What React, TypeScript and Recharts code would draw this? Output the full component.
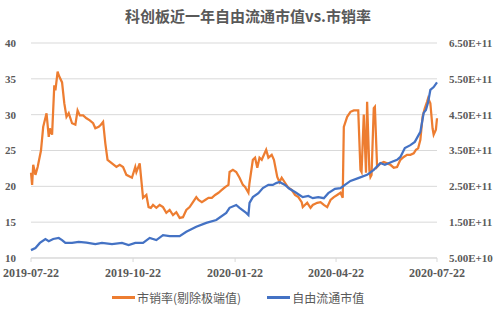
import { LineChart, Line, XAxis, YAxis, CartesianGrid } from "recharts"

// days counted from 2019-07-22
const START = Date.UTC(2019, 6, 22)
const xTickLabels = ["2019-07-22", "2019-10-22", "2020-01-22", "2020-04-22", "2020-07-22"]
const leftTicks = [10, 15, 20, 25, 30, 35, 40]
const rightTicks = [5e10, 1.5e11, 2.5e11, 3.5e11, 4.5e11, 5.5e11, 6.5e11]

// 市销率(剔除极端值)
const psDays = [
  0, 1, 2, 4, 6, 9, 11, 14, 16, 17, 19, 21, 22, 24, 25, 28, 30, 32, 34, 37, 40, 42, 44, 47, 50, 53, 56, 58, 61, 63,
  65, 67, 69, 73, 77, 80, 83, 86, 91, 94, 95, 98, 101, 104, 106, 108, 110, 113, 116, 119, 122, 125, 128, 131, 134,
  137, 140, 143, 146, 149, 151, 154, 157, 160, 163, 166, 169, 172, 175, 178, 179, 182, 185, 188, 191, 193, 196, 197,
  200, 202, 204, 206, 208, 210, 212, 214, 217, 219, 222, 224, 226, 229, 232, 235, 238, 241, 244, 245, 249, 252, 254,
  258, 261, 264, 267, 270, 273, 276, 279, 281, 282, 285, 288, 291, 295, 297, 298, 300, 302, 303, 305, 306, 307, 309,
  310, 312, 315, 318, 321, 324, 327, 330, 333, 336, 339, 342, 345, 347, 349, 351, 353, 355, 357, 358, 360, 362, 363,
  365, 366,
]
const psValues = [
  21.9, 20.2, 23, 21.6, 22.7, 25, 28.3, 30.2, 26.9, 28.1, 27.2, 34.1, 33.4, 36, 35.5, 34.5, 31.6, 29.7, 30.2, 28.8,
  28.6, 30.6, 29.9, 29.9, 29.5, 29.2, 28.8, 28.1, 28.3, 28.6, 29, 26, 23.7, 23.2, 22.7, 23, 22.7, 21.6, 21.2, 22.7,
  22, 23.2, 18.4, 18.8, 17.1, 17, 17.4, 17, 17.4, 17.1, 16.3, 16.7, 16, 16.4, 15.6, 15.7, 16.7, 17.1, 17.8, 18.5,
  18.1, 17.8, 18.1, 18.4, 18.4, 18.8, 19.1, 19.5, 19.9, 20.2, 22, 22.3, 22, 21.2, 20.2, 19.9, 19.1, 20.5, 23.7, 24,
  22.6, 24, 23.7, 24.4, 25.1, 24, 24.4, 23.7, 21.3, 20.6, 21.2, 20.5, 19.8, 19.5, 18.8, 18.5, 17.8, 17.1, 17.7, 17,
  17.4, 17.7, 17.8, 17.4, 17.1, 18.1, 18.5, 18.8, 19.1, 18.4, 28.3, 29.7, 30.4, 30.6, 30.6, 22.3, 22, 30, 21.9, 31.8,
  22.3, 21.3, 21.6, 30.9, 31.1, 22.7, 23.2, 23.4, 23.2, 23, 22.6, 22.7, 23.7, 24.1, 24.4, 24.4, 24.6, 25.1, 25.3,
  26.5, 29.7, 30.9, 31.8, 32.3, 31.6, 28.1, 27.2, 27.9, 29.5,
]

// 自由流通市值, in units of 1E+11
const mvDays = [
  0, 4, 8, 13, 16, 20, 25, 28, 31, 37, 43, 50, 58, 64, 73, 82, 88, 94, 101, 107, 113, 119, 125, 134, 140, 149, 158,
  167, 176, 179, 185, 188, 194, 196, 197, 200, 205, 209, 214, 218, 221, 224, 229, 233, 238, 242, 245, 250, 254, 259,
  264, 268, 274, 279, 283, 288, 295, 303, 309, 315, 319, 325, 330, 333, 337, 342, 346, 351, 354, 356, 358, 360, 363,
  366,
]
const mvValues = [
  0.72, 0.78, 0.92, 1.03, 0.97, 1.03, 1.06, 1.0, 0.92, 0.92, 0.95, 0.93, 0.89, 0.92, 0.89, 0.92, 0.86, 0.92, 0.92,
  1.06, 1.0, 1.14, 1.11, 1.11, 1.23, 1.37, 1.48, 1.56, 1.76, 1.9, 1.98, 1.9, 1.76, 1.7, 2.04, 2.2, 2.31, 2.45, 2.54,
  2.54, 2.59, 2.62, 2.54, 2.43, 2.34, 2.26, 2.2, 2.23, 2.17, 2.2, 2.17, 2.31, 2.43, 2.45, 2.54, 2.65, 2.73, 2.82,
  2.96, 3.15, 3.1, 3.18, 3.24, 3.32, 3.57, 3.65, 3.74, 4.02, 4.55, 4.63, 4.85, 5.19, 5.27, 5.4,
]

const toDay = (s: string) => Math.round((Date.parse(s) - START) / 86400000)
const xTicks = xTickLabels.map(toDay)
const fmtDay = (d: number) => new Date(START + d * 86400000).toISOString().slice(0, 10)

type Row = { day: number; ps?: number; mv?: number }
const rowMap = new Map<number, Row>()
psDays.forEach((d, i) => rowMap.set(d, { ...(rowMap.get(d) || { day: d }), ps: psValues[i] }))
mvDays.forEach((d, i) => rowMap.set(d, { ...(rowMap.get(d) || { day: d }), mv: mvValues[i] * 1e11 }))
const data = Array.from(rowMap.values()).sort((a, b) => a.day - b.day)

const GRAY = "#595959"
const ORANGE = "#ED7D31"
const BLUE = "#4472C4"
const axisFont = { fontFamily: "'Liberation Serif', serif", fontWeight: 700, fill: GRAY }

export default function App() {
  return (
    <div style={{ position: "absolute", left: 0, top: 0, width: 500, height: 314, background: "#fff" }}>
      <div
        style={{
          position: "absolute",
          top: 5,
          left: 0,
          width: 496,
          textAlign: "center",
          fontFamily: "'Noto Sans CJK SC', sans-serif",
          fontWeight: 700,
          fontSize: 15,
          color: GRAY,
        }}
      >
        科创板近一年自由流通市值vs.市销率
      </div>
      <LineChart width={500} height={314} data={data} margin={{ top: 43, right: 0, bottom: 26, left: 0 }}>
        <CartesianGrid stroke="#d9d9d9" vertical={false} yAxisId="left" />
        <XAxis
          dataKey="day"
          type="number"
          domain={[0, 366]}
          ticks={xTicks}
          tickFormatter={fmtDay}
          interval={0}
          height={30}
          stroke="#d9d9d9"
          tickSize={4}
          tickMargin={6}
          tick={{ ...axisFont, fontSize: 12 }}
        />
        <YAxis
          yAxisId="left"
          domain={[10, 40]}
          ticks={leftTicks}
          width={31}
          axisLine={false}
          tickLine={false}
          tickSize={0}
          tickMargin={15}
          tick={{ ...axisFont, fontSize: 11 }}
        />
        <YAxis
          yAxisId="right"
          orientation="right"
          domain={[5e10, 6.5e11]}
          ticks={rightTicks}
          tickFormatter={(v: number) => v.toExponential(2).toUpperCase()}
          width={63}
          axisLine={false}
          tickLine={false}
          tickSize={0}
          tickMargin={12}
          tick={{ ...axisFont, fontSize: 11 }}
        />
        <Line
          yAxisId="left"
          dataKey="ps"
          stroke={ORANGE}
          strokeWidth={2.25}
          dot={false}
          connectNulls
          isAnimationActive={false}
        />
        <Line
          yAxisId="right"
          dataKey="mv"
          stroke={BLUE}
          strokeWidth={2.25}
          dot={false}
          connectNulls
          isAnimationActive={false}
        />
      </LineChart>
      <div
        style={{
          position: "absolute",
          top: 289,
          left: 112,
          display: "flex",
          alignItems: "center",
          fontFamily: "'Noto Sans CJK SC', sans-serif",
          fontSize: 12,
          color: GRAY,
          whiteSpace: "nowrap",
        }}
      >
        <span style={{ display: "inline-block", width: 23, height: 2.5, background: ORANGE, marginRight: 2 }} />
        <span>市销率(剔除极端值)</span>
        <span style={{ display: "inline-block", width: 23, height: 2.5, background: BLUE, marginLeft: 26, marginRight: 2 }} />
        <span>自由流通市值</span>
      </div>
    </div>
  )
}
